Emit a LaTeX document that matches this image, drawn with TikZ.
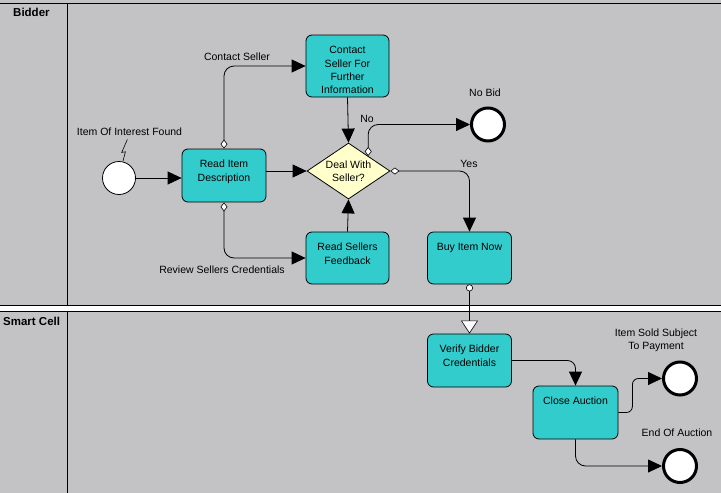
\documentclass[tikz,border=0pt]{standalone}
\usepackage{fontspec}
\setmainfont{Liberation Sans}
\usetikzlibrary{shapes.geometric,arrows.meta,calc}
\definecolor{lanegray}{RGB}{195,195,198}
\definecolor{tealfill}{RGB}{51,204,204}
\definecolor{paleyellow}{RGB}{255,255,204}
\newcommand\boxtxt[3]{\parbox[c][#2][t]{#1}{\centering\baselineskip=13.3pt\vspace*{9.5pt}\strut #3\par}}
\begin{document}
\begin{tikzpicture}[x=1pt,y=-1pt,
  txt/.style={font=\fontsize{10.5}{13.3}\selectfont},
  lanetitle/.style={font=\fontsize{11.5}{13}\selectfont\bfseries, inner sep=0pt, anchor=west},
  task/.style={draw=black, line width=0.8pt, fill=tealfill, rounded corners=6pt, inner sep=0pt, txt},
  gateway/.style={draw=black, line width=0.8pt, fill=paleyellow, diamond, aspect=1.48, inner sep=0pt, minimum width=83pt, minimum height=56pt, txt, align=center},
  startev/.style={draw=black, line width=0.8pt, fill=white, circle, minimum size=33pt, inner sep=0pt},
  endev/.style={draw=black, line width=3pt, fill=white, circle, minimum size=33pt, inner sep=0pt},
  note/.style={txt, inner sep=0pt, align=center},
  flow/.style={draw=black, line width=0.8pt, rounded corners=10pt, -{Triangle[length=14pt,width=13pt]}},
  cflow/.style={draw=black, line width=0.8pt, rounded corners=10pt, {Diamond[fill=white,length=9pt,width=7pt,line width=0.6pt]}-{Triangle[length=14pt,width=13pt]}},
  msgflow/.style={draw=black, line width=0.8pt, {Circle[fill=white,length=7pt,line width=0.6pt]}-{Triangle[fill=white,length=13pt,width=17pt,line width=0.6pt]}}
]
% lanes
\fill[lanegray] (0,0) rectangle (721,493);
\useasboundingbox (0,0) rectangle (721,493);
\fill[white] (0,305) rectangle (721,311);
\draw[line width=1pt] (0,3) -- (721,3);
\draw[line width=1pt] (0,305) -- (721,305);
\draw[line width=1pt] (0,311) -- (721,311);
\draw[line width=1pt] (67,3) -- (67,305);
\draw[line width=1pt] (67,311) -- (67,493);
\node[lanetitle] (bidlbl) at (13,12) {Bidder};
\node[lanetitle] (smlbl) at (3,321) {Smart Cell};

% nodes
\node[startev] (start) at (119,178) {};
\node[task] (readitem) at (224,175.5) {\boxtxt{84pt}{53pt}{Read Item\\Description}};
\node[task] (contact) at (347.5,66) {\boxtxt{83pt}{62pt}{Contact\\Seller For\\Further\\Information}};
\node[gateway] (deal) at (348.5,171) {Deal With\\Seller?};
\node[task] (feedback) at (347.5,258) {\boxtxt{83pt}{52pt}{Read Sellers\\Feedback}};
\node[endev] (nobid) at (488,124.5) {};
\node[task] (buy) at (469.5,258) {\boxtxt{84pt}{52pt}{Buy Item Now}};
\node[task] (verify) at (469.5,360.5) {\boxtxt{84pt}{53pt}{Verify Bidder\\Credentials}};
\node[task] (close) at (575.5,412.5) {\boxtxt{85pt}{53pt}{Close Auction}};
\node[endev] (sold) at (680,378.5) {};
\node[endev] (endauc) at (680,466) {};

% labels
\node[note] (lblfound) at (129.5,132) {Item Of Interest Found};
\node[note] (lblcontact) at (237,57) {Contact Seller};
\node[note] (lblreview) at (222,270) {Review Sellers Credentials};
\node[note] (lblno) at (367,119) {No};
\node[note] (lblnobid) at (485,93) {No Bid};
\node[note] (lblyes) at (469,164) {Yes};
\node[note] (lblsold) at (656,340) {Item Sold Subject\\To Payment};
\node[note] (lblend) at (677,433) {End Of Auction};

% trigger
\draw[line width=0.6pt] ($(start.north)+(4,0)$) -- ++(2.4,-9.3) -- ++(-3.7,0.6) -- ++(5.7,-13);

% connectors
\draw[flow] (start.east) -- (readitem.west |- start.east);
\draw[cflow] (readitem.north) |- (contact.west);
\draw[cflow] (readitem.south) |- (feedback.west);
\draw[flow] (readitem.east |- deal.west) -- (deal.west);
\draw[flow] (contact.south) -- (deal.north);
\draw[flow] (feedback.north) -- (deal.south);
\coordinate (noout) at ($(deal.north)!0.47!(deal.east)$);
\draw[cflow] (noout) |- (nobid.west);
\draw[cflow] (deal.east) -| (buy.north);
\draw[msgflow] (buy.south) -- (verify.north);
\draw[flow, rounded corners=8pt] (verify.east) -| (close.north);
\draw[flow, rounded corners=6pt] (close.east) -- ++(14,0) |- (sold.west);
\draw[flow] (close.south) |- (endauc.west);
\end{tikzpicture}
\end{document}
